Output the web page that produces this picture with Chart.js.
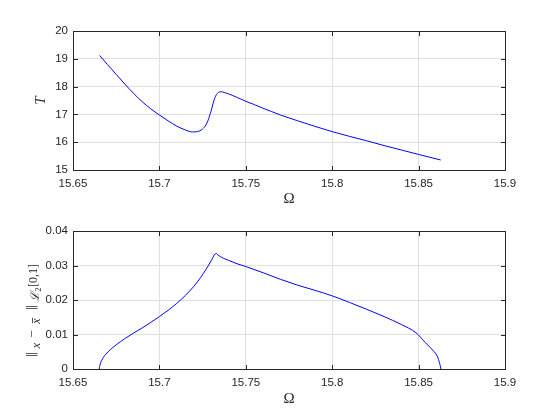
<!DOCTYPE html>
<html>
<head>
<meta charset="utf-8">
<script src="https://cdn.jsdelivr.net/npm/chart.js@4.4.1/dist/chart.umd.min.js"></script>
<style>
  html, body { margin: 0; padding: 0; background: #fff; }
  #wrap { position: relative; width: 560px; height: 420px; }
  .c { position: absolute; left: 0; width: 560px; height: 210px; }
</style>
</head>
<body>
<div id="wrap">
  <canvas id="c1" class="c" width="560" height="210" style="top:0"></canvas>
  <canvas id="c2" class="c" width="560" height="210" style="top:210px"></canvas>
</div>
<script>
// ---- data ----
const omegaTop = [15.6654, 15.6700, 15.6750, 15.6800, 15.6850, 15.6900, 15.6950, 15.7000, 15.7050, 15.7100, 15.7150, 15.7190, 15.7220, 15.7245, 15.7265, 15.7280, 15.7290, 15.7300, 15.7310, 15.7320, 15.7330, 15.7342, 15.7356, 15.7375, 15.7400, 15.7450, 15.7500, 15.7550, 15.7600, 15.7650, 15.7700, 15.7800, 15.7900, 15.8000, 15.8100, 15.8200, 15.8300, 15.8400, 15.8500, 15.8628];
const periodT  = [19.12, 18.79, 18.44, 18.09, 17.76, 17.46, 17.20, 16.98, 16.77, 16.58, 16.44, 16.37, 16.38, 16.45, 16.58, 16.76, 16.94, 17.14, 17.38, 17.58, 17.71, 17.79, 17.815, 17.79, 17.74, 17.61, 17.47, 17.35, 17.22, 17.10, 16.98, 16.77, 16.57, 16.38, 16.21, 16.05, 15.88, 15.72, 15.56, 15.36];

const omegaBot = [15.6652, 15.6654, 15.6658, 15.6665, 15.6675, 15.6690, 15.6716, 15.6750, 15.6800, 15.6850, 15.6900, 15.6950, 15.7000, 15.7050, 15.7100, 15.7150, 15.7200, 15.7240, 15.7270, 15.7300, 15.7318, 15.7328, 15.7340, 15.7370, 15.7400, 15.7450, 15.7500, 15.7600, 15.7700, 15.7800, 15.7900, 15.8000, 15.8100, 15.8200, 15.8300, 15.8400, 15.8485, 15.8540, 15.8590, 15.8605, 15.8615, 15.8622, 15.8626, 15.8629];
const normDev  = [0.0000, 0.0007, 0.0015, 0.0024, 0.0033, 0.0043, 0.0056, 0.0070, 0.0088, 0.0104, 0.0119, 0.0135, 0.0152, 0.0170, 0.0190, 0.0213, 0.0240, 0.0266, 0.0289, 0.0314, 0.0331, 0.0335, 0.0330, 0.0321, 0.0315, 0.0305, 0.0297, 0.0279, 0.0260, 0.0243, 0.0228, 0.0212, 0.0193, 0.0173, 0.0152, 0.0129, 0.0105, 0.0076, 0.0050, 0.0040, 0.0028, 0.0016, 0.0008, 0.0000];

const xTicks = [15.65, 15.7, 15.75, 15.8, 15.85, 15.9];
const xTickLabels = ['15.65', '15.7', '15.75', '15.8', '15.85', '15.9'];
const yTicksTop = [15, 16, 17, 18, 19, 20];
const yTickLabelsTop = ['15', '16', '17', '18', '19', '20'];
const yTicksBot = [0, 0.01, 0.02, 0.03, 0.04];
const yTickLabelsBot = ['0', '0.01', '0.02', '0.03', '0.04'];

const AX = '#262626';
const GRID = '#dfdfdf';
const TICKFONT = { family: 'Liberation Sans, Arial, sans-serif', size: 11.5 };
const SERIF = '"Liberation Serif", "DejaVu Serif", serif';

const framePlugin = {
  id: 'frame',
  afterDraw(chart, args, opts) {
    const ctx = chart.ctx;
    const a = chart.chartArea;
    const xs = chart.scales.x, ys = chart.scales.y;
    const L = Math.round(a.left) + 0.5, R = Math.round(a.right) + 0.5;
    const T = Math.round(a.top) + 0.5, B = Math.round(a.bottom) + 0.5;
    ctx.save();
    ctx.strokeStyle = AX;
    ctx.lineWidth = 1;
    ctx.beginPath();
    ctx.rect(L, T, R - L, B - T);
    const tl = 4.5;
    xs.ticks.forEach(t => {
      const px = Math.round(xs.getPixelForValue(t.value)) + 0.5;
      ctx.moveTo(px, B); ctx.lineTo(px, B - tl);
      ctx.moveTo(px, T); ctx.lineTo(px, T + tl);
    });
    ys.ticks.forEach(t => {
      const py = Math.round(ys.getPixelForValue(t.value)) + 0.5;
      ctx.moveTo(L, py); ctx.lineTo(L + tl, py);
      ctx.moveTo(R, py); ctx.lineTo(R - tl, py);
    });
    ctx.stroke();

    // x label
    ctx.fillStyle = AX;
    ctx.font = '15px ' + SERIF;
    ctx.textAlign = 'center';
    ctx.textBaseline = 'middle';
    ctx.fillText('Ω', (a.left + a.right) / 2, a.bottom + opts.xlabelOffset);

    // y label (rotated frame: point (u,v) -> screen (v, -u))
    const cy = (a.top + a.bottom) / 2;
    ctx.rotate(-Math.PI / 2);
    ctx.textBaseline = 'alphabetic';
    ctx.textAlign = 'center';
    if (opts.which === 'top') {
      ctx.font = 'italic 15px ' + SERIF;
      ctx.fillText('T', -cy, 45);
    } else {
      const parts = [
        { t: '‖', f: '11px "DejaVu Serif", serif', y: 49.5, v: 33.5 },
        { t: 'x', f: 'italic 12px ' + SERIF, y: 40.5, v: 39.5 },
        { t: '−', f: '13px ' + SERIF, y: 29, v: 35.5 },
        { t: 'x', f: 'italic 12px ' + SERIF, y: 16, v: 39.5, bar: true },
        { t: '‖', f: '11px "DejaVu Serif", serif', y: 2.5, v: 33.5 },
        { t: 'ℒ', f: 'italic 12px "DejaVu Serif", serif', y: -8, v: 39 },
        { t: '2', f: '8px ' + SERIF, y: -15.5, v: 41 },
        { t: '[0,1]', f: '12px ' + SERIF, y: -29.5, v: 37 }
      ];
      parts.forEach(p => {
        ctx.font = p.f;
        const u = -(cy + p.y + 5);
        ctx.fillText(p.t, u, p.v);
        if (p.bar) {
          const w = ctx.measureText(p.t).width;
          ctx.beginPath();
          ctx.lineWidth = 0.8;
          ctx.moveTo(u - w / 2 + 0.5, 32.5); ctx.lineTo(u + w / 2 + 0.5, 32.5);
          ctx.stroke();
        }
      });
    }
    ctx.restore();
  }
};

function makeChart(id, xs, ys, yTicks, yLabels, yMin, yMax, padTop, xHeight, which, xlabelOffset) {
  return new Chart(document.getElementById(id), {
    type: 'scatter',
    data: {
      datasets: [{
        data: xs.map((v, i) => ({ x: v, y: ys[i] })),
        showLine: true,
        borderColor: '#0000ff',
        borderWidth: 1,
        pointRadius: 0,
        cubicInterpolationMode: 'monotone',
        fill: false
      }]
    },
    options: {
      responsive: false,
      devicePixelRatio: 1,
      animation: false,
      layout: { padding: { left: 0, right: 55, top: padTop, bottom: 0 } },
      plugins: {
        legend: { display: false },
        tooltip: { enabled: false },
        frame: { which: which, xlabelOffset: xlabelOffset }
      },
      scales: {
        x: {
          type: 'linear', min: 15.65, max: 15.9,
          afterBuildTicks: s => { s.ticks = xTicks.map(v => ({ value: v })); },
          afterFit: s => { s.height = xHeight; },
          ticks: { callback: (v, i) => xTickLabels[i], font: TICKFONT, color: AX, padding: 7, maxRotation: 0, autoSkip: false },
          grid: { color: GRID, lineWidth: 1, drawTicks: false },
          border: { display: false }
        },
        y: {
          type: 'linear', min: yMin, max: yMax,
          afterBuildTicks: s => { s.ticks = yTicks.map(v => ({ value: v })); },
          afterFit: s => { s.width = 73; },
          ticks: { callback: (v, i) => yLabels[i], font: TICKFONT, color: AX, padding: 5, autoSkip: false },
          grid: { color: GRID, lineWidth: 1, drawTicks: false },
          border: { display: false }
        }
      }
    },
    plugins: [framePlugin]
  });
}

makeChart('c1', omegaTop, periodT, yTicksTop, yTickLabelsTop, 15, 20, 31, 40, 'top', 29);
makeChart('c2', omegaBot, normDev, yTicksBot, yTickLabelsBot, 0, 0.04, 21, 51, 'bot', 30);
</script>
</body>
</html>
